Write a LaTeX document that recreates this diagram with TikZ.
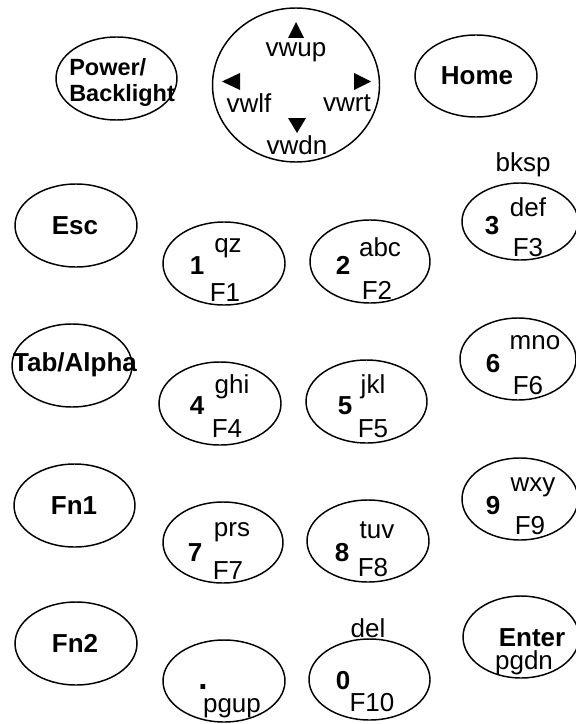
\documentclass[tikz,border=0pt]{standalone}
\usepackage{fontspec}
\setmainfont{Liberation Sans}
\usetikzlibrary{shapes.geometric}
\tikzset{
  keyshape/.style={draw, ellipse, inner sep=0pt, outer sep=0pt, line width=1.1pt},
  lab/.style={inner sep=0pt, anchor=base, font=\fontsize{19.5}{23}\selectfont},
  blab/.style={inner sep=0pt, anchor=base, font=\fontsize{19.5}{23}\selectfont\bfseries},
  plab/.style={inner sep=0pt, anchor=base west, font=\fontsize{17.6}{21}\selectfont\bfseries},
  tri/.style={fill=black}
}
\newcommand{\keyE}[5]{\node[keyshape, minimum width={2*#4*0.75pt}, minimum height={2*#5*0.75pt}] (#1) at (#2,#3) {};}
\begin{document}
\begin{tikzpicture}[x=0.75pt, y=-0.75pt]
\useasboundingbox (0,0) rectangle (575,724);
% ellipses
\keyE{pwr}{116.5}{78.5}{60.5}{41.5}
\keyE{nav}{296}{85}{83.5}{77}
\keyE{home}{476}{76}{61}{41}
\keyE{esc}{76}{225.5}{61}{41.5}
\keyE{k1}{224}{263.5}{61}{41.5}
\keyE{k2}{370}{261.5}{60}{41.5}
\keyE{k3}{520}{221.5}{58}{38.5}
\keyE{tab}{72}{365.5}{60}{41.5}
\keyE{k4}{220}{403.5}{61}{41.5}
\keyE{k5}{366.5}{401.5}{60.5}{41.5}
\keyE{k6}{518}{359}{58}{41}
\keyE{fnone}{74.5}{505.5}{60.5}{41.5}
\keyE{k7}{223}{542.5}{60}{40.5}
\keyE{k8}{368}{541}{61}{41}
\keyE{k9}{520}{499}{58}{41}
\keyE{fntwo}{76}{643.5}{61}{41.5}
\keyE{kdot}{224}{681}{61}{41}
\keyE{kzero}{369.5}{679.5}{60.5}{40.5}
\keyE{enter}{521}{637}{58}{41}
% navigation triangles
\fill[tri] (288,38) -- (304,38) -- (296,22) -- cycle;
\fill[tri] (240,73) -- (240,90) -- (222,81.5) -- cycle;
\fill[tri] (354,73) -- (354,90) -- (371,81.5) -- cycle;
\fill[tri] (288,118) -- (306,118) -- (297,133) -- cycle;
% top row labels
\node[plab] (tpow) at (69,75.4) {Power/};
\node[plab] (tback) at (69,101) {Backlight};
\node[blab] (thome) at (477,84.3) {Home};
\node[lab] (tvwup) at (296,56) {vwup};
\node[lab] (tvwlf) at (249,112.3) {vwlf};
\node[lab] (tvwrt) at (347,111.7) {vwrt};
\node[lab] (tvwdn) at (297,154.3) {vwdn};
\node[lab] (tbksp) at (523,171.5) {bksp};
% left column
\node[blab] (tesc) at (75,234.3) {Esc};
\node[blab] (ttab) at (75,371.5) {Tab/Alpha};
\node[blab] (tfn1) at (74,514.3) {Fn1};
\node[blab] (tfn2) at (75,652.3) {Fn2};
% digit keys
\node[blab] (d1) at (197,274.3) {1};
\node[lab] (a1) at (228,252) {qz};
\node[lab] (f1) at (225,301.3) {F1};
\node[blab] (d2) at (343,274.3) {2};
\node[lab] (a2) at (380,256.3) {abc};
\node[lab] (f2) at (377,299.3) {F2};
\node[blab] (d3) at (492,234.3) {3};
\node[lab] (a3) at (528,216.3) {def};
\node[lab] (f3) at (528,256.3) {F3};
\node[blab] (d4) at (197,414.3) {4};
\node[lab] (a4) at (232,393.5) {ghi};
\node[lab] (f4) at (227,437.3) {F4};
\node[blab] (d5) at (345,414.3) {5};
\node[lab] (a5) at (373,393.5) {jkl};
\node[lab] (f5) at (373,437.3) {F5};
\node[blab] (d6) at (493,372.3) {6};
\node[lab] (a6) at (535,349.75) {mno};
\node[lab] (f6) at (528,394.3) {F6};
\node[blab] (d7) at (195,561.3) {7};
\node[lab] (a7) at (232,536) {prs};
\node[lab] (f7) at (228,579.3) {F7};
\node[blab] (d8) at (342,561.3) {8};
\node[lab] (a8) at (377,538.5) {tuv};
\node[lab] (f8) at (373,576.3) {F8};
\node[blab] (d9) at (493,514.3) {9};
\node[lab] (a9) at (533,491) {wxy};
\node[lab] (f9) at (530,534.3) {F9};
\node[lab] (tdel) at (368,637.3) {del};
\node[blab] (d0) at (343,689.3) {0};
\node[lab] (f0) at (372,711.3) {F10};
\node[inner sep=0pt, anchor=base, font=\fontsize{25}{25}\selectfont\bfseries] (tdot) at (203,689.5) {.};
\node[lab] (tpgup) at (232,712) {pgup};
\node[blab] (tenter) at (532,646.3) {Enter};
\node[lab] (tpgdn) at (524,669.5) {pgdn};
\end{tikzpicture}
\end{document}
